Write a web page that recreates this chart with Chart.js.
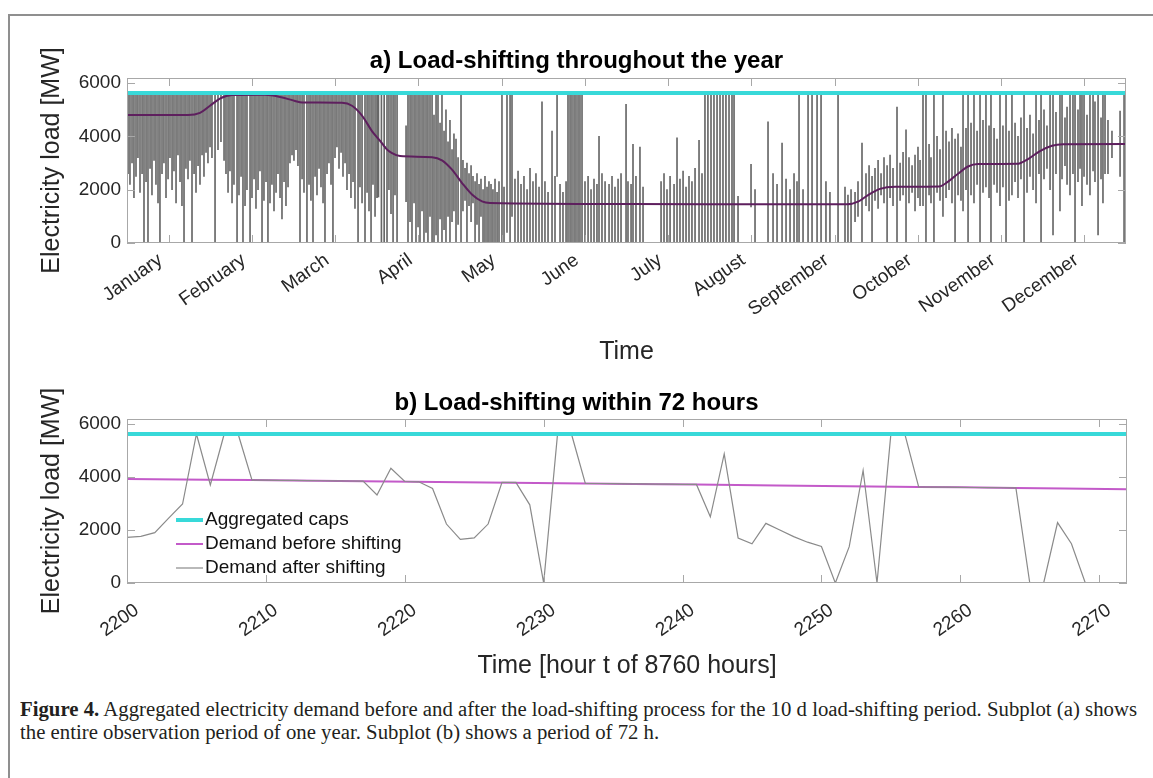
<!DOCTYPE html>
<html>
<head>
<meta charset="utf-8">
<title>Load-shifting</title>
<script src="https://cdn.jsdelivr.net/npm/chart.js@4.4.1/dist/chart.umd.min.js"></script>
<style>
  html, body { margin: 0; padding: 0; background: #fff; }
  #fig { position: relative; width: 1153px; height: 778px; overflow: hidden; background: #fff; }
  #frame { position: absolute; left: 8px; top: 14px; width: 1200px; height: 800px;
           border-left: 2px solid #8f8f8f; border-top: 2px solid #8f8f8f; }
  #wrapA { position: absolute; left: 0; top: 0; width: 1153px; height: 380px; }
  #wrapB { position: absolute; left: 0; top: 380px; width: 1153px; height: 310px; }
  #caption { position: absolute; left: 20px; top: 698px; font-family: "Liberation Serif", "Times New Roman", serif;
             font-size: 20px; line-height: 23px; color: #231f20; white-space: nowrap; transform-origin: 0 0; }
  #caption b { font-weight: bold; }
</style>
</head>
<body>
<div id="fig">
  <div id="frame"></div>
  <div id="wrapA"><canvas id="yearChart"></canvas></div>
  <div id="wrapB"><canvas id="windowChart"></canvas></div>
  <div id="caption">
    <div id="capLine1"><b>Figure 4.</b> Aggregated electricity demand before and after the load-shifting process for the 10 d load-shifting period. Subplot (a) shows</div>
    <div>the entire observation period of one year. Subplot (b) shows a period of 72 h.</div>
  </div>
</div>
<script>
// ---- data -------------------------------------------------------------
const monthNames = ['January', 'February', 'March', 'April', 'May', 'June',
  'July', 'August', 'September', 'October', 'November', 'December'];
// mid-month positions in hours of the year
const monthTicks = [365, 1095, 1825, 2555, 3285, 4015, 4745, 5475, 6205, 6935, 7665, 8395];
const loadTicks = [0, 2000, 4000, 6000];

// aggregated cap of all loads [MW]
const capLevel = 5625;

// demand before shifting (smoothed), hour of year -> MW
const beforeHours = [0, 535, 640, 728, 815, 921, 1210, 1342, 1473, 1535,
  1885, 1973, 2061, 2148, 2200, 2209, 2217, 2233, 2241, 2257,
  2264, 2272, 2324, 2394, 2675, 2762, 2850, 2938, 3025, 3113,
  3183, 4411, 6314, 6410, 6498, 6603, 6735, 7121, 7200, 7287,
  7375, 7462, 7804, 7901, 8006, 8111, 8208, 8760];
const beforeLoad = [4800, 4800, 4880, 5150, 5420, 5550, 5560, 5480, 5330, 5275,
  5260, 5150, 4780, 4200, 3930, 3885, 3845, 3760, 3715, 3625,
  3590, 3540, 3370, 3260, 3220, 3100, 2750, 2250, 1820, 1560,
  1500, 1460, 1450, 1550, 1800, 2030, 2110, 2120, 2300, 2600,
  2870, 2960, 2970, 3150, 3450, 3650, 3705, 3712];

// demand after shifting over the year: hourly swings as (hour, high, low)
const shiftHour = [
  9, 26, 44, 61, 79, 96, 114, 132, 149, 167,
  184, 202, 219, 237, 254, 272, 289, 307, 324, 342,
  360, 377, 395, 412, 430, 447, 465, 482, 500, 517,
  535, 552, 570, 588, 605, 623, 640, 658, 675, 693,
  710, 728, 745, 772, 798, 824, 851, 868, 886, 903,
  921, 938, 965, 982, 1000, 1017, 1035, 1052, 1079, 1096,
  1114, 1131, 1149, 1166, 1184, 1201, 1219, 1236, 1254, 1271,
  1289, 1307, 1324, 1342, 1359, 1377, 1394, 1412, 1429, 1447,
  1464, 1482, 1499, 1517, 1535, 1552, 1578, 1596, 1613, 1631,
  1649, 1666, 1684, 1701, 1719, 1736, 1754, 1771, 1789, 1806,
  1824, 1841, 1859, 1877, 1894, 1912, 1929, 1947, 1964, 1982,
  1999, 2026, 2043, 2061, 2087, 2105, 2122, 2140, 2157, 2175,
  2192, 2205, 2231, 2255, 2280, 2297, 2315, 2333, 2350, 2368,
  2447, 2464, 2482, 2499, 2517, 2534, 2552, 2569, 2587, 2604,
  2622, 2639, 2657, 2675, 2692, 2710, 2727, 2745, 2762, 2780,
  2797, 2815, 2832, 2850, 2867, 2885, 2903, 2929, 2946, 2964,
  2981, 2999, 3017, 3034, 3052, 3069, 3087, 3104, 3122, 3139,
  3157, 3174, 3192, 3209, 3227, 3245, 3262, 3288, 3306, 3332,
  3359, 3376, 3402, 3429, 3455, 3481, 3508, 3534, 3560, 3586,
  3613, 3639, 3665, 3692, 3727, 3753, 3771, 3797, 3823, 3850,
  3867, 3885, 3902, 3920, 3937, 3955, 3972, 3990, 4016, 4043,
  4069, 4095, 4121, 4139, 4165, 4192, 4227, 4253, 4279, 4306,
  4332, 4376, 4393, 4420, 4437, 4463, 4498, 4525, 4683, 4709,
  4735, 4762, 4797, 4823, 4849, 4876, 4902, 4928, 4954, 4981,
  5016, 5042, 5068, 5094, 5121, 5147, 5174, 5200, 5226, 5252,
  5279, 5305, 5323, 5358, 5472, 5507, 5621, 5665, 5700, 5744,
  5779, 5814, 5849, 5875, 5893, 5928, 5972, 6007, 6051, 6086,
  6129, 6164, 6235, 6296, 6322, 6349, 6384, 6410, 6445, 6480,
  6507, 6533, 6559, 6586, 6612, 6638, 6665, 6691, 6717, 6752,
  6779, 6805, 6831, 6857, 6884, 6910, 6936, 6954, 6980, 7006,
  7033, 7050, 7076, 7103, 7129, 7155, 7182, 7208, 7234, 7261,
  7287, 7313, 7331, 7357, 7375, 7401, 7427, 7454, 7480, 7506,
  7532, 7559, 7576, 7603, 7629, 7655, 7681, 7708, 7734, 7760,
  7787, 7813, 7839, 7866, 7892, 7918, 7945, 7971, 7997, 8015,
  8041, 8067, 8094, 8120, 8146, 8181, 8199, 8225, 8243, 8269,
  8295, 8313, 8339, 8357, 8374, 8392, 8418, 8444, 8471, 8488,
  8515, 8541, 8558, 8576, 8602, 8637, 8708, 8743];
const shiftHigh = [
  5625, 5625, 5625, 5625, 5625, 5625, 5625, 5625, 5625, 5625,
  5625, 5625, 5625, 5625, 5625, 5625, 5625, 5625, 5625, 5625,
  5625, 5625, 5625, 5625, 5625, 5625, 5625, 5625, 5625, 5625,
  5625, 5625, 5625, 5625, 5625, 5625, 5625, 5625, 5625, 5625,
  5625, 5625, 5625, 5625, 5625, 5625, 5625, 5625, 5625, 5625,
  5625, 5625, 5625, 5625, 5625, 5625, 5625, 5625, 5625, 5625,
  5625, 5625, 5625, 5625, 5625, 5625, 5625, 5625, 5625, 5625,
  5625, 5625, 5625, 5625, 5625, 5625, 5625, 5625, 5625, 5625,
  5625, 5625, 5625, 5625, 5625, 5625, 5625, 5625, 5625, 5625,
  5625, 5625, 5625, 5625, 5625, 5625, 5625, 5625, 5625, 5625,
  5625, 5625, 5625, 5625, 5625, 5625, 5625, 5625, 5625, 5625,
  5625, 5625, 5625, 5625, 5625, 5625, 5625, 5625, 5625, 5625,
  5625, 5625, 5625, 5625, 5625, 5625, 5625, 5625, 5625, 5625,
  4400, 5625, 5625, 5625, 5625, 5625, 5625, 5625, 5625, 5625,
  5625, 5625, 5625, 5625, 4800, 5625, 5625, 4500, 5625, 4200,
  5000, 3800, 4600, 3500, 4100, 3900, 3200, 5625, 3100, 2800,
  3000, 2600, 2900, 2500, 2300, 2600, 2200, 2400, 2000, 2500,
  2100, 2300, 2200, 2000, 2400, 1900, 2300, 5625, 2100, 5625,
  5625, 5625, 2400, 2700, 2200, 2500, 2000, 2800, 2300, 2600,
  2100, 5300, 2300, 1900, 4200, 2500, 5625, 2200, 1900, 2300,
  5625, 5625, 5625, 5625, 5625, 5625, 5625, 5625, 2300, 2500,
  2000, 2400, 2200, 4000, 2600, 2300, 2200, 2500, 2100, 2400,
  2600, 5200, 2300, 2200, 3700, 2500, 3600, 2100, 2300, 2600,
  2000, 2500, 2200, 3950, 2400, 2700, 2100, 2500, 2300, 2800,
  3850, 2600, 5625, 5625, 5625, 5625, 5625, 5625, 5625, 5625,
  5625, 5625, 5625, 1750, 2950, 2000, 4550, 2600, 2200, 3750,
  2400, 2000, 2600, 2300, 5625, 2000, 5625, 5625, 5625, 5625,
  2300, 1900, 5625, 2100, 1800, 2000, 1900, 2300, 3750, 2600,
  2900, 2500, 2800, 3100, 2600, 3200, 2900, 3300, 2800, 5100,
  3000, 3400, 4250, 3200, 2900, 3300, 3600, 3100, 5625, 5625,
  3700, 3200, 5625, 4000, 3500, 5625, 4200, 3800, 4300, 3900,
  4100, 3600, 5625, 4300, 5625, 4500, 5625, 4200, 5625, 4600,
  5625, 4400, 5625, 4300, 3900, 5625, 4400, 5625, 4200, 5625,
  4500, 4000, 4700, 5625, 4300, 4800, 4100, 5625, 4600, 5625,
  5000, 4400, 5625, 5625, 4900, 5625, 5625, 4700, 5100, 5625,
  5625, 5625, 5000, 5625, 5625, 5625, 4800, 5625, 5625, 5300,
  5625, 4700, 5625, 5625, 4600, 4200, 4950, 5625];
const shiftLow = [
  2600, 2200, 3000, 1700, 2500, 3200, 1900, 2600, 0, 2300,
  0, 2800, 1800, 3100, 2200, 1500, 0, 2600, 3000, 1700,
  2400, 3200, 2000, 2700, 1500, 3300, 2300, 1400, 0, 2800,
  2400, 3100, 0, 2600, 1900, 2900, 2200, 3300, 2500, 3400,
  3000, 3600, 3200, 0, 3500, 3800, 3100, 2600, 1900, 2700,
  1500, 2200, 0, 1800, 2500, 0, 1400, 2000, 0, 1700,
  2400, 1300, 2000, 2700, 0, 1600, 2300, 0, 1500, 2200,
  1200, 1900, 2600, 1700, 900, 2300, 1400, 2100, 3000, 3300,
  3100, 3500, 2900, 0, 2400, 1900, 0, 2200, 1600, 0,
  2500, 1800, 2800, 2100, 1500, 0, 2600, 3000, 2200, 0,
  3200, 3600, 2800, 3400, 2500, 3000, 2000, 2600, 1700, 2300,
  1300, 0, 2100, 1500, 0, 1900, 1200, 0, 2200, 1000,
  1700, 1725, 0, 0, 0, 2000, 1100, 0, 1800, 0,
  1550, 0, 800, 0, 1500, 0, 600, 0, 1200, 0,
  400, 0, 1000, 0, 0, 300, 0, 900, 0, 500,
  0, 1000, 0, 800, 1200, 0, 700, 0, 1200, 1600,
  0, 1400, 800, 1500, 0, 700, 0, 1000, 0, 0,
  0, 0, 0, 0, 0, 0, 0, 0, 0, 400,
  0, 1000, 0, 0, 0, 0, 0, 0, 0, 0,
  0, 0, 0, 0, 0, 0, 2500, 0, 0, 0,
  0, 0, 0, 0, 0, 0, 0, 0, 0, 0,
  0, 0, 0, 0, 0, 0, 0, 0, 0, 0,
  0, 0, 0, 0, 0, 0, 0, 0, 0, 0,
  0, 0, 0, 0, 0, 0, 0, 0, 0, 0,
  0, 0, 0, 0, 0, 0, 0, 0, 0, 0,
  0, 0, 0, 0, 1350, 0, 0, 0, 0, 0,
  0, 0, 0, 0, 0, 0, 0, 0, 0, 0,
  0, 0, 0, 0, 0, 0, 800, 1000, 0, 1400,
  1200, 0, 1600, 1300, 1800, 1500, 0, 1700, 1400, 0,
  1600, 1800, 0, 1500, 1900, 1200, 1700, 1400, 1400, 0,
  1800, 1500, 0, 1900, 1600, 1000, 1700, 2000, 1500, 0,
  1800, 1600, 1200, 2000, 0, 1800, 1500, 2200, 0, 1900,
  2100, 1700, 0, 2200, 1900, 1400, 2100, 0, 1600, 1800,
  2300, 1700, 2400, 0, 1900, 2500, 2000, 1500, 2600, 0,
  2400, 2800, 2000, 300, 2600, 1200, 2400, 2900, 2200, 1800,
  2600, 0, 2300, 2800, 1400, 2500, 2200, 1800, 2700, 2300,
  300, 2400, 1500, 2600, 2600, 3200, 2500, 0];

// 72-hour window, hourly demand after shifting [MW]
const windowHours = [2200, 2201, 2202, 2203, 2204, 2205, 2206, 2207, 2208, 2209,
  2210, 2211, 2212, 2213, 2214, 2215, 2216, 2217, 2218, 2219,
  2220, 2221, 2222, 2223, 2224, 2225, 2226, 2227, 2228, 2229,
  2230, 2231, 2232, 2233, 2234, 2235, 2236, 2237, 2238, 2239,
  2240, 2241, 2242, 2243, 2244, 2245, 2246, 2247, 2248, 2249,
  2250, 2251, 2252, 2253, 2254, 2255, 2256, 2257, 2258, 2259,
  2260, 2261, 2262, 2263, 2264, 2265, 2266, 2267, 2268, 2269,
  2270, 2271, 2272];
const windowAfter = [1725, 1760, 1900, 2450, 2980, 5625, 3700, 5625, 5625, 3885,
  3880, 3875, 3870, 3865, 3860, 3855, 3850, 3845, 3320, 4330,
  3830, 3820, 3570, 2225, 1650, 1700, 2225, 3800, 3800, 2950,
  0, 5625, 5625, 3760, 3755, 3750, 3745, 3740, 3735, 3730,
  3725, 3720, 2500, 4870, 1700, 1480, 2250, 2000, 1750, 1540,
  1380, 0, 1370, 4250, 0, 5625, 5625, 3625, 3620, 3615,
  3610, 3605, 3600, 3595, 3590, 0, 0, 2280, 1480, 0,
  0, 0, 0];
const windowTicks = [2200, 2210, 2220, 2230, 2240, 2250, 2260, 2270];

// ---- styling helpers ---------------------------------------------------
const SANS = '"Liberation Sans", Arial, Helvetica, sans-serif';
Chart.defaults.font.family = SANS;
Chart.defaults.color = '#262626';
Chart.defaults.animation = false;

const CAP_COLOR = '#38d9d9';
const BOX_COLOR = '#a8a8a8';

// axes box with inward tick marks on all four sides
const frameTicks = {
  id: 'frameTicks',
  afterDatasetsDraw(chart, args, opts) {
    const { ctx, chartArea: a, scales: { x, y } } = chart;
    const L = opts.length;
    ctx.save();
    ctx.strokeStyle = opts.color;
    ctx.lineWidth = 1;
    ctx.beginPath();
    x.ticks.forEach(t => {
      const px = Math.round(x.getPixelForValue(t.value)) + 0.5;
      ctx.moveTo(px, a.bottom); ctx.lineTo(px, a.bottom - L);
      ctx.moveTo(px, a.top); ctx.lineTo(px, a.top + L);
    });
    y.ticks.forEach(t => {
      const py = Math.round(y.getPixelForValue(t.value)) + 0.5;
      ctx.moveTo(a.left, py); ctx.lineTo(a.left + L, py);
      ctx.moveTo(a.right, py); ctx.lineTo(a.right - L, py);
    });
    ctx.stroke();
    ctx.strokeRect(Math.round(a.left) + 0.5, Math.round(a.top) + 0.5,
      Math.round(a.right - a.left) - 1, Math.round(a.bottom - a.top) - 1);
    ctx.restore();
  }
};

// legend drawn inside the plot area, lower left
const insideLegend = {
  id: 'insideLegend',
  afterDraw(chart, args, opts) {
    const { ctx, chartArea: a } = chart;
    ctx.save();
    ctx.font = opts.font;
    ctx.textBaseline = 'middle';
    ctx.textAlign = 'left';
    chart.data.datasets.forEach((ds, i) => {
      const yy = a.top + opts.top + i * opts.rowGap;
      ctx.strokeStyle = ds.borderColor;
      ctx.lineWidth = ds.borderWidth;
      ctx.beginPath();
      ctx.moveTo(a.left + opts.left, yy);
      ctx.lineTo(a.left + opts.left + opts.lineLength, yy);
      ctx.stroke();
      ctx.fillStyle = '#111';
      ctx.fillText(ds.label, a.left + opts.left + opts.lineLength + opts.gap, yy);
    });
    ctx.restore();
  }
};

function yAxis() {
  return {
    min: 0, max: 6190,
    grid: { display: false, drawTicks: false },
    border: { display: false },
    afterBuildTicks: s => { s.ticks = loadTicks.map(v => ({ value: v })); },
    ticks: { padding: 6, font: { size: 19 }, color: '#262626', callback: v => String(v) },
    title: { display: true, text: 'Electricity load [MW]', color: '#262626',
             font: { size: 25 }, padding: { top: 37, bottom: 0 } },
    afterFit: s => { s.width = 127; }
  };
}

// empty right-hand margin kept as an axis so the title stays centred on the figure
function rightMargin(w) {
  return {
    position: 'right', display: true,
    grid: { display: false, drawTicks: false },
    border: { display: false },
    ticks: { display: false },
    afterFit: s => { s.width = w; }
  };
}

// ---- (a) whole year ------------------------------------------------------
new Chart(document.getElementById('yearChart'), {
  type: 'bar',
  data: {
    datasets: [
      { type: 'line', label: 'Aggregated caps',
        data: [{ x: 0, y: capLevel }, { x: 8760, y: capLevel }],
        borderColor: CAP_COLOR, borderWidth: 4, pointRadius: 0, order: 0 },
      { type: 'line', label: 'Demand before shifting',
        data: beforeHours.map((h, i) => ({ x: h, y: beforeLoad[i] })),
        borderColor: '#5e1f5e', borderWidth: 2, pointRadius: 0,
        cubicInterpolationMode: 'monotone', order: 1 },
      { type: 'bar', label: 'Demand after shifting',
        data: shiftHour.map((h, i) => ({ x: h, y: [shiftLow[i], shiftHigh[i]] })),
        backgroundColor: 'rgba(10,10,10,0.62)', borderWidth: 0, barThickness: 1, order: 2 }
    ]
  },
  options: {
    responsive: true, maintainAspectRatio: false, animation: false,
    layout: { padding: 0, autoPadding: false },
    plugins: {
      legend: { display: false },
      tooltip: { enabled: false },
      title: { display: true, text: 'a) Load-shifting throughout the year', color: '#000',
               font: { size: 24, weight: 'bold' }, padding: { top: 47, bottom: 2.2 } },
      frameTicks: { color: BOX_COLOR, length: 8 }
    },
    scales: {
      x: {
        type: 'linear', min: 0, max: 8760, offset: false,
        grid: { display: false, drawTicks: false, offset: false },
        border: { display: false },
        afterBuildTicks: s => { s.ticks = monthTicks.map(v => ({ value: v })); },
        ticks: { autoSkip: false, minRotation: 35, maxRotation: 35, padding: 6, labelOffset: -8,
                 font: { size: 19 }, color: '#262626', callback: (v, i) => monthNames[i] },
        title: { display: true, text: 'Time', color: '#262626', font: { size: 25 },
                 padding: { top: 0, bottom: 13 } },
        afterFit: s => { s.height = 137; }
      },
      y: yAxis(),
      yRight: rightMargin(27)
    }
  },
  plugins: [frameTicks]
});

// ---- (b) 72-hour window -------------------------------------------------
new Chart(document.getElementById('windowChart'), {
  type: 'line',
  data: {
    datasets: [
      { label: 'Aggregated caps',
        data: [{ x: 2200, y: capLevel }, { x: 2272, y: capLevel }],
        borderColor: CAP_COLOR, borderWidth: 4, pointRadius: 0, order: 0 },
      { label: 'Demand before shifting',
        data: beforeHours.map((h, i) => ({ x: h, y: beforeLoad[i] })),
        borderColor: '#c35ac9', borderWidth: 2, pointRadius: 0,
        cubicInterpolationMode: 'monotone', order: 2 },
      { label: 'Demand after shifting',
        data: windowHours.map((h, i) => ({ x: h, y: windowAfter[i] })),
        borderColor: '#8a8a8a', borderWidth: 1.2, pointRadius: 0, order: 1 }
    ]
  },
  options: {
    responsive: true, maintainAspectRatio: false, animation: false,
    layout: { padding: 0, autoPadding: false },
    plugins: {
      legend: { display: false },
      tooltip: { enabled: false },
      title: { display: true, text: 'b) Load-shifting within 72 hours', color: '#000',
               font: { size: 24, weight: 'bold' }, padding: { top: 8.6, bottom: 1.6 } },
      frameTicks: { color: BOX_COLOR, length: 8 },
      insideLegend: { font: '19px ' + SANS, top: 101, rowGap: 24, left: 49, lineLength: 27, gap: 2 }
    },
    scales: {
      x: {
        type: 'linear', min: 2200, max: 2272,
        grid: { display: false, drawTicks: false },
        border: { display: false },
        afterBuildTicks: s => { s.ticks = windowTicks.map(v => ({ value: v })); },
        ticks: { autoSkip: false, minRotation: 35, maxRotation: 35, padding: 16, labelOffset: 10,
                 font: { size: 19 }, color: '#262626', callback: v => String(v) },
        title: { display: true, text: 'Time [hour t of 8760 hours]', color: '#262626',
                 font: { size: 25 }, padding: { top: 0, bottom: 9 } },
        afterFit: s => { s.height = 107; }
      },
      y: yAxis(),
      yRight: rightMargin(26)
    }
  },
  plugins: [frameTicks, insideLegend]
});

// ---- caption width -------------------------------------------------------
function fitCaption() {
  const cap = document.getElementById('caption');
  const line = document.getElementById('capLine1');
  cap.style.transform = 'none';
  const range = document.createRange();
  range.selectNodeContents(line);
  const tw = range.getBoundingClientRect().width || line.getBoundingClientRect().width;
  cap.style.transform = 'scaleX(' + (1117 / tw) + ')';
}
fitCaption();
if (document.fonts && document.fonts.ready) document.fonts.ready.then(fitCaption);
</script>
</body>
</html>
